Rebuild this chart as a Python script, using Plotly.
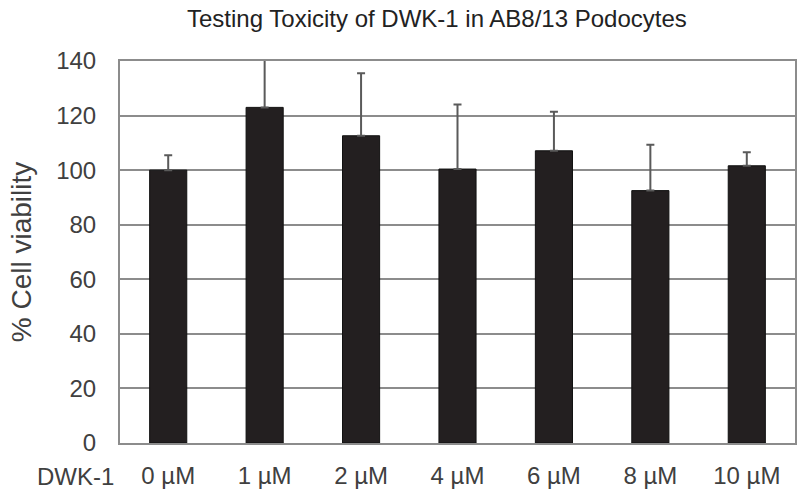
import plotly.graph_objects as go

doses = ["0 µM", "1 µM", "2 µM", "4 µM", "6 µM", "8 µM", "10 µM"]
viability = [100.0, 123.0, 112.6, 100.4, 107.1, 92.5, 101.6]
error_up = [5.5, 20.0, 22.9, 23.7, 14.3, 16.8, 5.0]

FONT = "Arial, Liberation Sans, sans-serif"
GRID = "#8c8c8c"

fig = go.Figure()
fig.add_trace(
    go.Bar(
        x=doses,
        y=viability,
        marker=dict(color="#231f20", line=dict(color="#111111", width=1)),
        error_y=dict(
            type="data",
            array=error_up,
            arrayminus=[0] * len(error_up),
            symmetric=False,
            color="#5a5a5a",
            thickness=2,
            width=4,
        ),
        showlegend=False,
    )
)

fig.update_layout(
    width=800,
    height=493,
    margin=dict(l=120, r=5, t=61, b=50, autoexpand=False),
    plot_bgcolor="white",
    paper_bgcolor="white",
    bargap=0.615,
    font=dict(family=FONT, color="#404040"),
    annotations=[
        dict(
            text="Testing Toxicity of DWK-1 in AB8/13 Podocytes",
            xref="paper", yref="paper",
            x=(437 - 120) / 675, y=1,
            xanchor="center", yanchor="middle",
            yshift=43,
            showarrow=False,
            font=dict(size=24, color="#222222", family=FONT),
        ),
        dict(
            text="DWK-1",
            xref="paper", yref="paper",
            x=(75 - 120) / 675, y=0,
            xanchor="center", yanchor="middle",
            yshift=-33,
            showarrow=False,
            font=dict(size=24, color="#404040", family=FONT),
        ),
    ],
)

fig.update_xaxes(
    automargin=False,
    showgrid=False,
    showline=True,
    linecolor=GRID,
    linewidth=2,
    mirror=True,
    ticks="",
    ticklabelstandoff=10,
    tickfont=dict(size=24, color="#404040"),
)
fig.update_yaxes(
    automargin=False,
    range=[0, 140],
    dtick=20,
    showgrid=True,
    gridcolor=GRID,
    gridwidth=1.5,
    zeroline=False,
    showline=True,
    linecolor=GRID,
    linewidth=2,
    mirror=True,
    ticks="",
    ticklabelstandoff=17,
    tickfont=dict(size=24, color="#404040"),
    title=dict(text="% Cell viability", font=dict(size=28, color="#404040"), standoff=16),
)

# drop the default page margin so the 800x493 figure fills the window exactly
fig.write_html(
    "out.html",
    config={"displayModeBar": False},
    post_script="document.body.style.margin='0';",
)
